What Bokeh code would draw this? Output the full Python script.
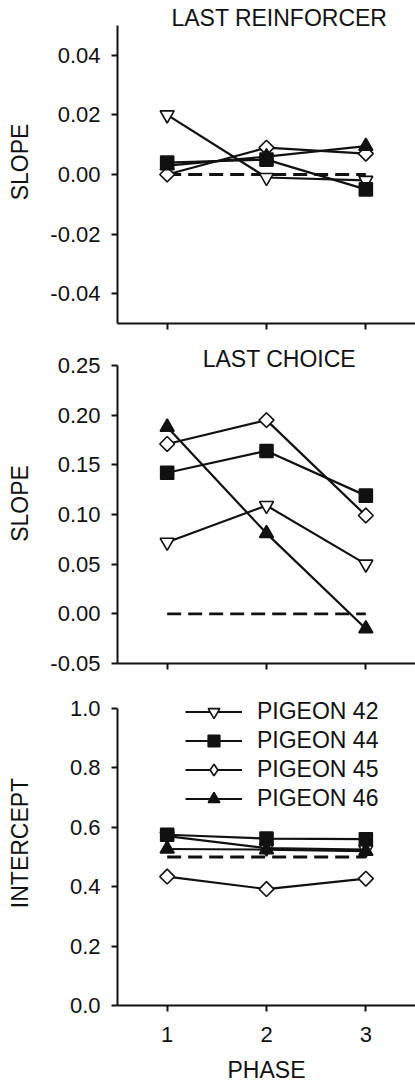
from bokeh.plotting import figure
from bokeh.layouts import column
from bokeh.models import (Range1d, FixedTicker, NumeralTickFormatter, Label,
                          Legend, LegendItem)
from bokeh.embed import file_html
from bokeh.resources import INLINE

# ---- data -------------------------------------------------------------
PHASES = [1, 2, 3]
PIGEONS = ["PIGEON 42", "PIGEON 44", "PIGEON 45", "PIGEON 46"]

# slope, last reinforcer
LR_42 = [0.020, -0.001, -0.002]
LR_44 = [0.004, 0.005, -0.005]
LR_45 = [0.000, 0.009, 0.007]
LR_46 = [0.003, 0.006, 0.0095]

# slope, last choice
LC_42 = [0.072, 0.109, 0.050]
LC_44 = [0.142, 0.164, 0.119]
LC_45 = [0.171, 0.195, 0.099]
LC_46 = [0.188, 0.081, -0.015]

# intercept
IN_42 = [0.570, 0.530, 0.525]
IN_44 = [0.575, 0.562, 0.560]
IN_45 = [0.434, 0.392, 0.427]
IN_46 = [0.527, 0.525, 0.520]

SLOPE_REF = [0.0, 0.0, 0.0]
INTERCEPT_REF = [0.5, 0.5, 0.5]

SLOPE_TICKS_LR = [-0.04, -0.02, 0.0, 0.02, 0.04]
SLOPE_TICKS_LC = [-0.05, 0.0, 0.05, 0.10, 0.15, 0.20, 0.25]
INTERCEPT_TICKS = [0.0, 0.2, 0.4, 0.6, 0.8, 1.0]

# ---- styling ----------------------------------------------------------
FONT = "Liberation Sans"
INK = "#111111"
STYLES = [
    dict(marker="inverted_triangle", size=14, fill_color="white", angle=0.0),
    dict(marker="square", size=13, fill_color=INK, angle=0.0),
    dict(marker="square", size=10.5, fill_color="white", angle=0.785398),
    dict(marker="triangle", size=14, fill_color=INK, angle=0.0),
]


def panel(height, head_px, bottom, axis_px, lo, hi, ticks, fmt, x_labels,
          ylabel, ylabel_standoff):
    """Frame runs to the top of the figure; the y axis is bounded to [lo, hi]
    and the extra head_px of space above it holds the panel heading."""
    per_px = (hi - lo) / axis_px
    top = hi + head_px * per_px
    p = figure(width=415, height=height, x_range=Range1d(0.5, 3.5),
               y_range=Range1d(lo, top), output_backend="svg", toolbar_location=None,
               min_border_left=117, min_border_right=0,
               min_border_top=0, min_border_bottom=bottom)
    p.outline_line_color = None
    p.xgrid.visible = False
    p.ygrid.visible = False
    p.background_fill_color = "white"
    p.border_fill_color = "white"

    for ax in (p.xaxis[0], p.yaxis[0]):
        ax.axis_line_width = 2
        ax.axis_line_color = INK
        ax.major_tick_line_width = 2
        ax.major_tick_line_color = INK
        ax.major_tick_out = 6
        ax.major_tick_in = 0
        ax.minor_tick_line_color = None
        ax.major_label_text_font = FONT
        ax.major_label_text_font_size = "22px"
        ax.major_label_text_color = INK
        ax.axis_label_text_font = FONT
        ax.axis_label_text_font_size = "23px"
        ax.axis_label_text_font_style = "normal"
        ax.axis_label_text_color = INK

    p.yaxis.bounds = (lo, hi)
    p.xaxis.ticker = FixedTicker(ticks=PHASES)
    if not x_labels:
        p.xaxis.major_label_text_font_size = "0px"
        p.xaxis.major_label_standoff = 0
    else:
        p.xaxis.major_label_standoff = 15
        p.xaxis.axis_label = "PHASE"
        p.xaxis.axis_label_standoff = 12

    p.yaxis.ticker = FixedTicker(ticks=ticks)
    p.yaxis.formatter = NumeralTickFormatter(format=fmt)
    p.yaxis.major_label_standoff = 11
    p.yaxis.axis_label = ylabel
    p.yaxis.axis_label_standoff = ylabel_standoff
    return p, per_px


def draw_series(p, ref, series):
    p.line(PHASES, ref, line_color=INK, line_width=2.8, line_dash="14 7")
    lines, marks = [], []
    for ys in series:
        lines.append(p.line(PHASES, ys, line_color=INK, line_width=2.2))
    for ys, st in zip(series, STYLES):
        marks.append(p.scatter(PHASES, ys, marker=st["marker"], size=st["size"],
                               angle=st["angle"], fill_color=st["fill_color"],
                               line_color=INK, line_width=1.6))
    return lines, marks


def heading(p, text, hi, per_px, rise_px):
    p.add_layout(Label(x=2.13, y=hi + rise_px * per_px, text=text,
                       text_align="center", text_baseline="middle",
                       text_font=FONT, text_font_size="23px", text_color=INK))


# panel 1: last reinforcer slopes
p1, k1 = panel(343, 25, 20, 298, -0.05, 0.05, SLOPE_TICKS_LR, "0.00", False, "SLOPE", 14)
draw_series(p1, SLOPE_REF, [LR_42, LR_44, LR_45, LR_46])
heading(p1, "LAST REINFORCER", 0.05, k1, 7.5)

# panel 2: last choice slopes
p2, k2 = panel(337, 22, 17, 298, -0.05, 0.25, SLOPE_TICKS_LC, "0.00", False, "SLOPE", 14)
draw_series(p2, SLOPE_REF, [LC_42, LC_44, LC_45, LC_46])
heading(p2, "LAST CHOICE", 0.25, k2, 7)

# panel 3: intercepts with legend
p3, k3 = panel(410, 28, 85, 297, 0.0, 1.0, INTERCEPT_TICKS, "0.0", True, "INTERCEPT", 34)
lines3, marks3 = draw_series(p3, INTERCEPT_REF, [IN_42, IN_44, IN_45, IN_46])

# the legend cannot rotate markers, so pigeon 45 gets a native diamond key
key45 = p3.scatter(PHASES, IN_45, marker="diamond", size=16, fill_color="white",
                   line_color=INK, line_width=1.6, visible=False)
keys = [marks3[0], marks3[1], key45, marks3[3]]
items = [LegendItem(label=name, renderers=[ln, mk])
         for name, ln, mk in zip(PIGEONS, lines3, keys)]
legend = Legend(items=items, location=(68, 192), orientation="vertical",
                glyph_width=57, glyph_height=29, label_height=29, spacing=0,
                label_standoff=15, padding=0, margin=0,
                border_line_color=None, background_fill_alpha=0,
                label_text_font=FONT, label_text_font_size="23px",
                label_text_color=INK)
p3.add_layout(legend)

page = column(p1, p2, p3, spacing=0)
open("out.html", "w").write(file_html(page, INLINE))
